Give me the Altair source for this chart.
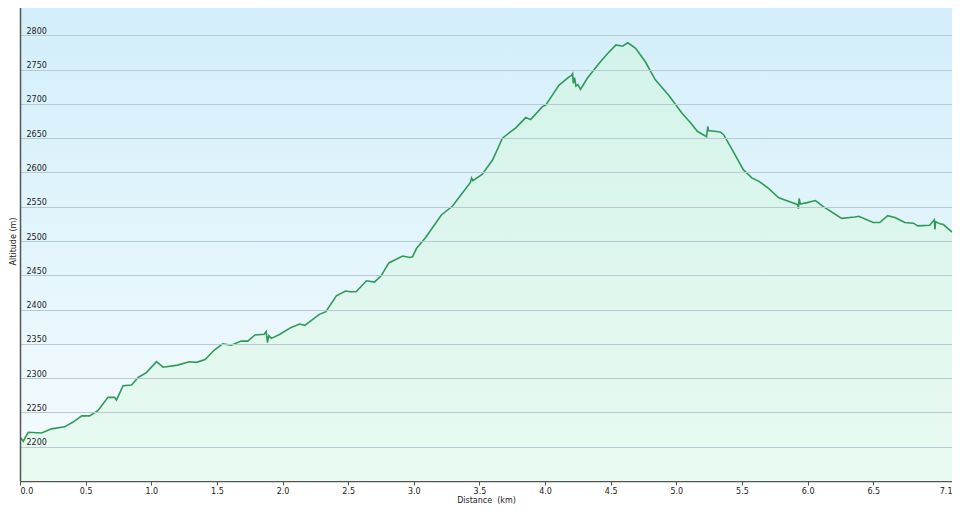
import altair as alt
import pandas as pd

# Distance (km) and altitude (m)
dist = [0.000, 0.025, 0.045, 0.063, 0.165, 0.24, 0.34, 0.405, 0.47, 0.53,
        0.595, 0.67, 0.72, 0.735, 0.785, 0.85, 0.90, 0.963, 1.04, 1.09,
        1.20, 1.29, 1.345, 1.41, 1.48, 1.545, 1.61, 1.685, 1.735, 1.79,
        1.86, 1.875, 1.885, 1.895, 1.915, 1.98, 2.065, 2.13, 2.17, 2.28,
        2.33, 2.41, 2.48, 2.52, 2.56, 2.64, 2.70, 2.75, 2.81, 2.915,
        2.97, 2.99, 3.02, 3.09, 3.21, 3.295, 3.37, 3.43, 3.44, 3.45,
        3.52, 3.60, 3.675, 3.777, 3.853, 3.89, 3.98, 4.005, 4.105, 4.18,
        4.20, 4.21, 4.215, 4.225, 4.235, 4.25, 4.27, 4.32, 4.37, 4.42,
        4.475, 4.54, 4.59, 4.63, 4.69, 4.765, 4.84, 4.94, 5.045, 5.11,
        5.16, 5.23, 5.24, 5.245, 5.335, 5.36, 5.42, 5.51, 5.575, 5.63,
        5.70, 5.78, 5.88, 5.925, 5.93, 5.935, 5.945, 5.995, 6.06, 6.12,
        6.26, 6.36, 6.39, 6.50, 6.55, 6.61, 6.67, 6.74, 6.805, 6.84,
        6.93, 6.965, 6.97, 6.975, 7.01, 7.035, 7.10]
altitude = [2214, 2208, 2215, 2221, 2220, 2226, 2229, 2236, 2245, 2245,
            2253, 2272, 2272, 2268, 2289, 2290, 2301, 2308, 2324, 2316,
            2319, 2324, 2323, 2327, 2341, 2350, 2348, 2354, 2354, 2363,
            2364, 2368, 2352, 2362, 2358, 2364, 2374, 2379, 2377, 2393,
            2397, 2420, 2427, 2426, 2426, 2442, 2440, 2449, 2468, 2478,
            2476, 2477, 2489, 2505, 2538, 2551, 2570, 2585, 2592, 2588,
            2597, 2618, 2650, 2665, 2680, 2677, 2696, 2698, 2727, 2739,
            2741, 2744, 2730, 2738, 2726, 2728, 2721, 2737, 2749, 2761,
            2773, 2786, 2784, 2789, 2781, 2761, 2735, 2713, 2686, 2672,
            2660, 2652, 2667, 2661, 2659, 2655, 2635, 2604, 2592, 2587,
            2577, 2563, 2556, 2553, 2547, 2562, 2554, 2556, 2559, 2550,
            2533, 2535, 2536, 2527, 2527, 2537, 2534, 2527, 2526, 2522,
            2523, 2531, 2517, 2528, 2525, 2524, 2513]

x_ticks = [0.0, 0.5, 1.0, 1.5, 2.0, 2.5, 3.0, 3.5, 4.0, 4.5, 5.0, 5.5, 6.0, 6.5, 7.1]
y_ticks = [2200, 2250, 2300, 2350, 2400, 2450, 2500, 2550, 2600, 2650, 2700, 2750, 2800]
x_domain = [0, 7.1]
y_domain = [2150, 2850]

df = pd.DataFrame({"dist": dist, "alt": altitude})

FONT = "DejaVu Sans"
TXT = "#222222"

x_enc = alt.X(
    "dist:Q",
    scale=alt.Scale(domain=x_domain, nice=False, zero=False),
    axis=alt.Axis(
        values=x_ticks, tickCount=len(x_ticks), format=".1f", grid=False,
        title="Distance\u00a0 (km)", titleFont=FONT, titleFontSize=8,
        titleFontWeight="normal", titleColor=TXT, titlePadding=1,
        labelFont=FONT, labelFontSize=8, labelColor=TXT, labelPadding=2,
        tickSize=4, tickColor="#555555", tickWidth=1,
        domainColor="#555555", domainWidth=1.5,
    ),
)
y_enc = alt.Y(
    "alt:Q",
    scale=alt.Scale(domain=y_domain, nice=False, zero=False),
    axis=alt.Axis(
        values=y_ticks, tickCount=len(y_ticks), labelOverlap=False,
        format="d", grid=True, gridColor="#b7c9d1", gridWidth=1,
        title="Altitude (m)", titleFont=FONT, titleFontSize=8,
        titleFontWeight="normal", titleColor=TXT, titleX=-7,
        titleAlign="center", titleBaseline="middle",
        labelFont=FONT, labelFontSize=8, labelColor=TXT,
        labelAlign="left", labelBaseline="alphabetic", labelPadding=-6,
        labelOffset=-2, ticks=True, tickSize=0,
        domainColor="#555555", domainWidth=1.5, zindex=1,
    ),
)

bg = alt.Chart(alt.Data(values=[{"k": 1}])).mark_rect(
    fill=alt.Gradient(
        gradient="linear",
        stops=[alt.GradientStop(color="#d2eefa", offset=0),
               alt.GradientStop(color="#e6f6fc", offset=0.6),
               alt.GradientStop(color="#f6fcfe", offset=1)],
        x1=0, x2=0, y1=0, y2=1,
    )
).encode(x=alt.value(0), x2=alt.value("width"), y=alt.value(0), y2=alt.value("height"))

area = alt.Chart(df).mark_area(
    fill=alt.Gradient(
        gradient="linear",
        stops=[alt.GradientStop(color="#d3f3ea", offset=0),
               alt.GradientStop(color="#e9faf1", offset=1)],
        x1=0, x2=0, y1=0, y2=1,
    ),
    clip=True,
).encode(x=x_enc, y=y_enc, y2=alt.datum(2150))

line = alt.Chart(df).mark_line(color="#2f9a58", strokeWidth=1.6, clip=True).encode(
    x="dist:Q", y="alt:Q"
)

chart = alt.layer(bg, area, line).properties(
    width=932, height=480,
    padding={"left": 12, "top": -7, "right": 0, "bottom": 24},
    autosize=alt.AutoSizeParams(type="none"),
    background="white",
).configure_view(stroke="#c9d6db", strokeWidth=1)

chart.save("out.html", embed_options={"renderer": "svg", "actions": False})
